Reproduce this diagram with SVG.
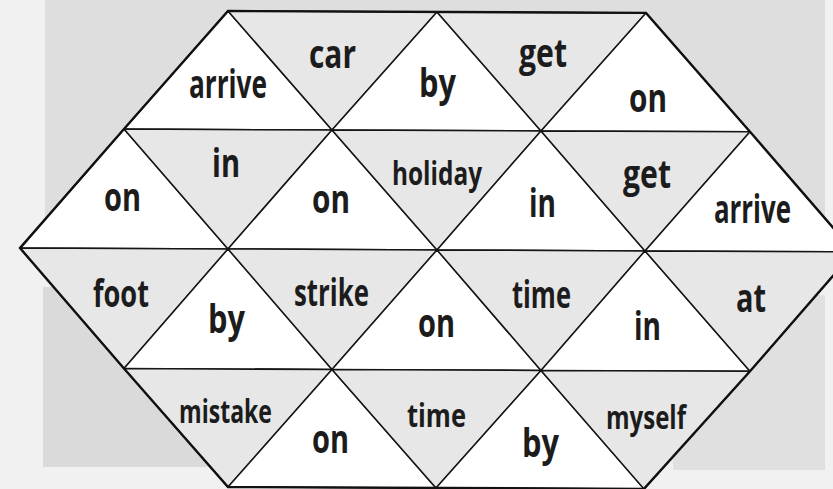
<svg xmlns="http://www.w3.org/2000/svg" width="833" height="489" viewBox="0 0 833 489">
<style>
.w{fill:#ffffff;stroke:#151515;stroke-width:1.5;stroke-linejoin:round}
.g{fill:#e7e7e7;stroke:#151515;stroke-width:1.5;stroke-linejoin:round}
text{font-family:"Open Sans","Noto Sans",sans-serif;font-weight:700;fill:#1c1c1c}
.L{font-size:40px}
.M{font-size:37px}
.S{font-size:33px}
</style>
<g id="background">
<rect x="0" y="0" width="833" height="489" fill="#f1f1f1"/>
<rect x="45" y="0" width="780" height="245" fill="#dedede"/>
<rect x="43" y="287" width="200" height="180" fill="#dadada"/>
<rect x="673" y="295" width="152" height="175" fill="#e0e0e0"/>
</g>
<g id="connectors"></g>
<g id="t0-0"><polygon class="w" points="124,129 332,130 228,11"/><text class="L" x="189" y="98" textLength="78" lengthAdjust="spacingAndGlyphs">arrive</text></g>
<g id="t0-1"><polygon class="g" points="228,11 437,11.9 332,130"/><text class="L" x="309" y="68" textLength="47" lengthAdjust="spacingAndGlyphs">car</text></g>
<g id="t0-2"><polygon class="w" points="332,130 541,130.9 437,11.9"/><text class="L" x="419" y="97" textLength="37" lengthAdjust="spacingAndGlyphs">by</text></g>
<g id="t0-3"><polygon class="g" points="437,11.9 646,12.9 541,130.9"/><text class="L" x="519" y="67" textLength="48" lengthAdjust="spacingAndGlyphs">get</text></g>
<g id="t0-4"><polygon class="w" points="541,130.9 750,131.8 646,12.9"/><text class="L" x="629" y="112" textLength="38" lengthAdjust="spacingAndGlyphs">on</text></g>
<g id="t1-0"><polygon class="w" points="20,248.1 228,249 124,129"/><text class="L" x="104" y="211" textLength="37" lengthAdjust="spacingAndGlyphs">on</text></g>
<g id="t1-1"><polygon class="g" points="124,129 332,130 228,249"/><text class="L" x="212" y="177" textLength="28" lengthAdjust="spacingAndGlyphs">in</text></g>
<g id="t1-2"><polygon class="w" points="228,249 437,249.9 332,130"/><text class="L" x="312" y="213" textLength="38" lengthAdjust="spacingAndGlyphs">on</text></g>
<g id="t1-3"><polygon class="g" points="332,130 541,130.9 437,249.9"/><text class="S" x="392" y="185" textLength="90" lengthAdjust="spacingAndGlyphs">holiday</text></g>
<g id="t1-4"><polygon class="w" points="437,249.9 645,250.9 541,130.9"/><text class="L" x="529" y="217" textLength="27" lengthAdjust="spacingAndGlyphs">in</text></g>
<g id="t1-5"><polygon class="g" points="541,130.9 750,131.8 645,250.9"/><text class="L" x="623" y="188" textLength="48" lengthAdjust="spacingAndGlyphs">get</text></g>
<g id="t1-6"><polygon class="w" points="645,250.9 854,251.8 750,131.8"/><text class="L" x="714" y="223" textLength="77" lengthAdjust="spacingAndGlyphs">arrive</text></g>
<g id="t2-0"><polygon class="g" points="20,248.1 228,249 124,368.5"/><text class="M" x="93" y="307" textLength="56" lengthAdjust="spacingAndGlyphs">foot</text></g>
<g id="t2-1"><polygon class="w" points="124,368.5 332,369.5 228,249"/><text class="L" x="208" y="333" textLength="37" lengthAdjust="spacingAndGlyphs">by</text></g>
<g id="t2-2"><polygon class="g" points="228,249 437,249.9 332,369.5"/><text class="M" x="294" y="306" textLength="75" lengthAdjust="spacingAndGlyphs">strike</text></g>
<g id="t2-3"><polygon class="w" points="332,369.5 541,370.4 437,249.9"/><text class="L" x="418" y="337" textLength="37" lengthAdjust="spacingAndGlyphs">on</text></g>
<g id="t2-4"><polygon class="g" points="437,249.9 645,250.9 541,370.4"/><text class="M" x="512" y="308" textLength="59" lengthAdjust="spacingAndGlyphs">time</text></g>
<g id="t2-5"><polygon class="w" points="541,370.4 750,371.3 645,250.9"/><text class="L" x="634" y="340" textLength="27" lengthAdjust="spacingAndGlyphs">in</text></g>
<g id="t2-6"><polygon class="g" points="645,250.9 854,251.8 750,371.3"/><text class="L" x="736" y="312" textLength="30" lengthAdjust="spacingAndGlyphs">at</text></g>
<g id="t3-0"><polygon class="g" points="124,368.5 332,369.5 228,487"/><text class="S" x="179" y="423" textLength="93" lengthAdjust="spacingAndGlyphs">mistake</text></g>
<g id="t3-1"><polygon class="w" points="228,487 436,487.9 332,369.5"/><text class="L" x="312" y="453" textLength="37" lengthAdjust="spacingAndGlyphs">on</text></g>
<g id="t3-2"><polygon class="g" points="332,369.5 541,370.4 436,487.9"/><text class="S" x="407" y="427" textLength="59" lengthAdjust="spacingAndGlyphs">time</text></g>
<g id="t3-3"><polygon class="w" points="436,487.9 644,488.9 541,370.4"/><text class="L" x="522" y="457" textLength="37" lengthAdjust="spacingAndGlyphs">by</text></g>
<g id="t3-4"><polygon class="g" points="541,370.4 750,371.3 644,488.9"/><text class="S" x="606" y="429" textLength="80" lengthAdjust="spacingAndGlyphs">myself</text></g>
<g id="outline"><polygon points="228,11 646,12.9 750,131.8 854,251.8 750,371.3 644,488.9 228,487 124,368.5 20,248.1 124,129" fill="none" stroke="#111" stroke-width="2.4" stroke-linejoin="miter"/></g>
</svg>
